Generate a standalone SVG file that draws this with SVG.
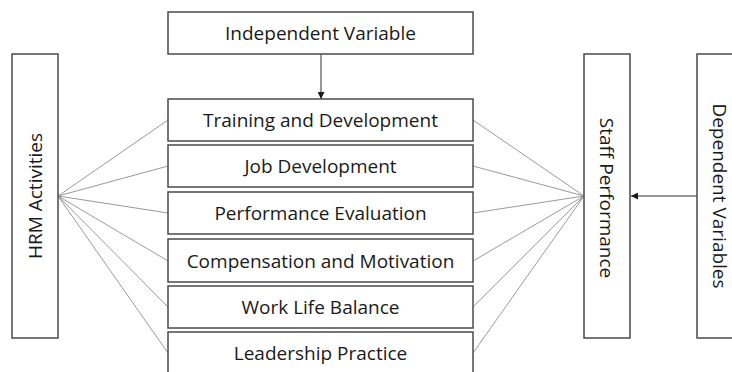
<svg xmlns="http://www.w3.org/2000/svg" width="732" height="372" viewBox="0 0 732 372">
  <style>
    .box { fill: #ffffff; stroke: #4a4a4a; stroke-width: 1.5; }
    .lbl { font-family: "Open Sans", "Liberation Sans", sans-serif; font-size: 19px; fill: #1a1a1a; text-anchor: middle; }
    .fan { stroke: #9a9a9a; stroke-width: 1; fill: none; }
    .arrow { stroke: #333333; stroke-width: 1; fill: none; marker-end: url(#head); }
  </style>
  <defs>
    <marker id="head" viewBox="0 0 10 10" refX="10" refY="5" markerWidth="7" markerHeight="7" markerUnits="userSpaceOnUse" orient="auto">
      <path d="M0,0 L10,5 L0,10 Z" fill="#1a1a1a"/>
    </marker>
  </defs>
  <rect width="732" height="372" fill="#ffffff"/>

  <g id="connectors">
    <!-- fan from HRM Activities to each practice -->
    <line class="fan" x1="58" y1="196" x2="168" y2="120"/>
    <line class="fan" x1="58" y1="196" x2="168" y2="166"/>
    <line class="fan" x1="58" y1="196" x2="168" y2="213"/>
    <line class="fan" x1="58" y1="196" x2="168" y2="261"/>
    <line class="fan" x1="58" y1="196" x2="168" y2="307"/>
    <line class="fan" x1="58" y1="196" x2="168" y2="353"/>
    <!-- fan from each practice to Staff Performance -->
    <line class="fan" x1="473" y1="120" x2="584" y2="196"/>
    <line class="fan" x1="473" y1="166" x2="584" y2="196"/>
    <line class="fan" x1="473" y1="213" x2="584" y2="196"/>
    <line class="fan" x1="473" y1="261" x2="584" y2="196"/>
    <line class="fan" x1="473" y1="307" x2="584" y2="196"/>
    <line class="fan" x1="473" y1="353" x2="584" y2="196"/>
    <!-- arrows -->
    <line class="arrow" x1="321" y1="54" x2="321" y2="99"/>
    <line class="arrow" x1="697" y1="196" x2="631" y2="196"/>
  </g>

  <g id="independent-variable">
    <rect class="box" x="168" y="12" width="305" height="42"/>
    <text class="lbl" x="320.5" y="40">Independent Variable</text>
  </g>

  <g id="hrm-activities">
    <rect class="box" x="12" y="54" width="46" height="284"/>
    <text class="lbl" transform="translate(42,196) rotate(-90)">HRM Activities</text>
  </g>

  <g id="training-development">
    <rect class="box" x="168" y="99" width="305" height="42"/>
    <text class="lbl" x="320.5" y="127">Training and Development</text>
  </g>
  <g id="job-development">
    <rect class="box" x="168" y="145" width="305" height="42"/>
    <text class="lbl" x="320.5" y="173">Job Development</text>
  </g>
  <g id="performance-evaluation">
    <rect class="box" x="168" y="192" width="305" height="42"/>
    <text class="lbl" x="320.5" y="220">Performance Evaluation</text>
  </g>
  <g id="compensation-motivation">
    <rect class="box" x="168" y="239" width="305" height="43"/>
    <text class="lbl" x="320.5" y="268">Compensation and Motivation</text>
  </g>
  <g id="work-life-balance">
    <rect class="box" x="168" y="286" width="305" height="42"/>
    <text class="lbl" x="320.5" y="314">Work Life Balance</text>
  </g>
  <g id="leadership-practice">
    <rect class="box" x="168" y="332" width="305" height="50"/>
    <text class="lbl" x="320.5" y="360">Leadership Practice</text>
  </g>

  <g id="staff-performance">
    <rect class="box" x="584" y="54" width="46" height="284"/>
    <text class="lbl" transform="translate(600,198) rotate(90)">Staff Performance</text>
  </g>

  <g id="dependent-variables">
    <rect class="box" x="697" y="54" width="50" height="284"/>
    <text class="lbl" transform="translate(713,196) rotate(90)">Dependent Variables</text>
  </g>
</svg>
